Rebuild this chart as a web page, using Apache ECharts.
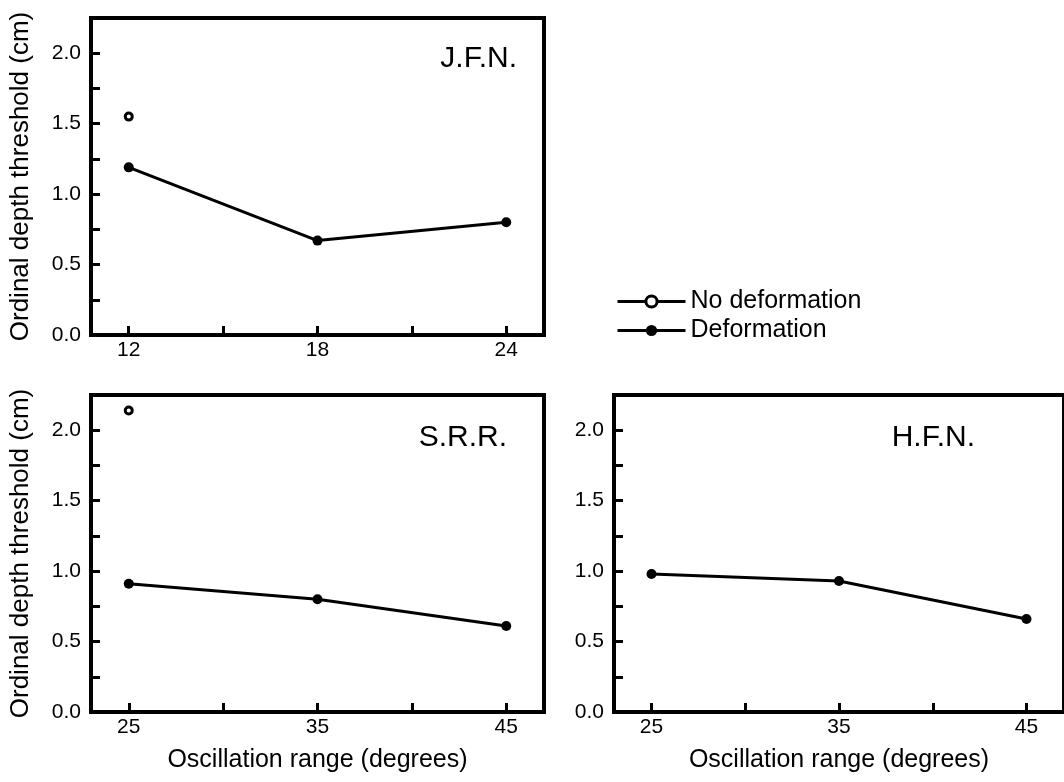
<!DOCTYPE html>
<html>
<head>
<meta charset="utf-8">
<script src="https://cdn.jsdelivr.net/npm/echarts@6/dist/echarts.min.js"></script>
<style>
  html, body { margin: 0; padding: 0; background: #fff; }
  #main { width: 1064px; height: 782px; }
</style>
</head>
<body>
<div id="main"></div>
<script>
// panel data
const jfnRange = [12, 18, 24];
const jfnDeform = [1.19, 0.67, 0.80];
const jfnNoDeform = [1.55];

const srrRange = [25, 35, 45];
const srrDeform = [0.91, 0.80, 0.61];
const srrNoDeform = [2.14];

const hfnRange = [25, 35, 45];
const hfnDeform = [0.98, 0.93, 0.66];

// tick labels
const jfnLabels = [12, 18, 24];
const jfnTicks = [12, 15, 18, 21, 24];
const rangeLabels = [25, 35, 45];
const rangeTicks = [25, 30, 35, 40, 45];

const font = "Liberation Sans";
const black = "#000";

function xAxisFor(grid, min, max, labels, ticks, withName) {
  return {
    type: "value",
    gridIndex: grid,
    min: min,
    max: max,
    name: withName ? "Oscillation range (degrees)" : "",
    nameLocation: "middle",
    nameGap: 36,
    nameTextStyle: { color: black, fontFamily: font, fontSize: 25 },
    splitLine: { show: false },
    axisLine: { show: true, lineStyle: { color: black, width: 4 } },
    axisTick: {
      show: true,
      inside: true,
      length: 9,
      customValues: ticks,
      lineStyle: { color: black, width: 3 }
    },
    axisLabel: {
      customValues: labels,
      color: black,
      fontFamily: font,
      fontSize: 21,
      margin: 5
    }
  };
}

function yAxisFor(grid, withName) {
  return {
    type: "value",
    gridIndex: grid,
    min: 0,
    max: 2.25,
    interval: 0.25,
    name: withName ? "Ordinal depth threshold (cm)" : "",
    nameLocation: "middle",
    nameGap: 57,
    nameTextStyle: { color: black, fontFamily: font, fontSize: 26 },
    splitLine: { show: false },
    axisLine: { show: true, lineStyle: { color: black, width: 4 } },
    axisTick: {
      show: true,
      inside: true,
      length: 9,
      lineStyle: { color: black, width: 3 }
    },
    axisLabel: {
      color: black,
      fontFamily: font,
      fontSize: 21,
      margin: 10,
      formatter: function (v) {
        return v % 0.5 === 0 ? v.toFixed(1) : "";
      }
    }
  };
}

function pairs(xs, ys) {
  return ys.map(function (y, i) { return [xs[i], y]; });
}

function deformSeries(i, xs, ys) {
  return {
    name: "Deformation",
    type: "line",
    xAxisIndex: i,
    yAxisIndex: i,
    symbol: "circle",
    symbolSize: 10,
    itemStyle: { color: black },
    lineStyle: { color: black, width: 3 },
    data: pairs(xs, ys)
  };
}

// open marker: white fill, thick black ring
function noDeformSeries(i, x, ys) {
  return {
    name: "No deformation",
    type: "line",
    xAxisIndex: i,
    yAxisIndex: i,
    symbol: "circle",
    symbolSize: 7,
    showSymbol: true,
    itemStyle: { color: "#fff", borderColor: black, borderWidth: 3 },
    lineStyle: { color: black, width: 3 },
    data: [[x, ys[0]]]
  };
}

const panelTitle = function (text, right, top) {
  return {
    text: text,
    right: right,
    top: top,
    textStyle: { color: black, fontFamily: font, fontSize: 30, fontWeight: "normal" }
  };
};

const option = {
  animation: false,
  backgroundColor: "#fff",
  title: [
    panelTitle("J.F.N.", 542, 39),
    panelTitle("S.R.R.", 552, 418),
    panelTitle("H.F.N.", 84, 418)
  ],
  legend: {
    left: 611,
    top: 284,
    orient: "vertical",
    itemWidth: 68,
    itemHeight: 14,
    itemGap: 4,
    lineStyle: { width: 3, color: black },
    itemStyle: { borderWidth: 3 },
    textStyle: { color: black, fontFamily: font, fontSize: 25 },
    data: ["No deformation", "Deformation"]
  },
  grid: [
    { left: 91, top: 18, width: 453, height: 317, show: true, borderColor: black, borderWidth: 4 },
    { left: 91, top: 395, width: 453, height: 317, show: true, borderColor: black, borderWidth: 4 },
    { left: 614, top: 395, width: 453, height: 317, show: true, borderColor: black, borderWidth: 4 }
  ],
  xAxis: [
    xAxisFor(0, 10.8, 25.2, jfnLabels, jfnTicks, false),
    xAxisFor(1, 23, 47, rangeLabels, rangeTicks, true),
    xAxisFor(2, 23, 47, rangeLabels, rangeTicks, true)
  ],
  yAxis: [
    yAxisFor(0, true),
    yAxisFor(1, true),
    yAxisFor(2, false)
  ],
  series: [
    deformSeries(0, jfnRange, jfnDeform),
    noDeformSeries(0, jfnRange[0], jfnNoDeform),
    deformSeries(1, srrRange, srrDeform),
    noDeformSeries(1, srrRange[0], srrNoDeform),
    deformSeries(2, hfnRange, hfnDeform)
  ]
};

const myChart = echarts.init(document.getElementById("main"));
myChart.setOption(option);
</script>
</body>
</html>
